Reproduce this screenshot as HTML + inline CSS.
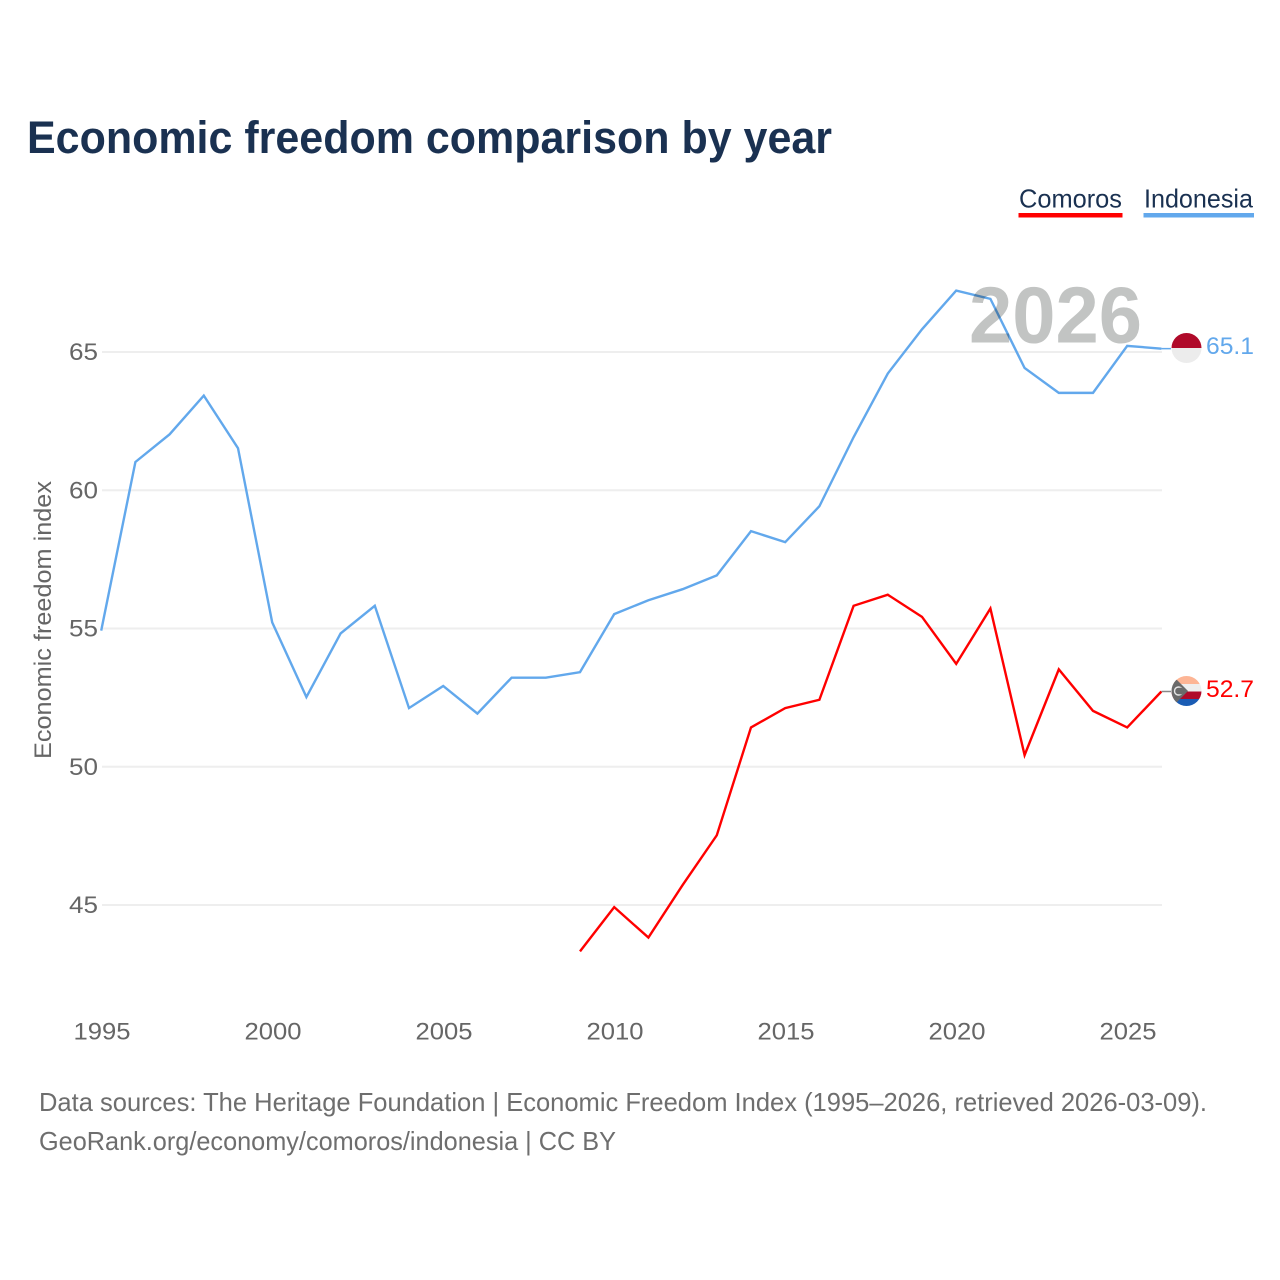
<!DOCTYPE html>
<html lang="en">
<head>
<meta charset="utf-8">
<title>Economic freedom comparison by year</title>
<style>
html,body{margin:0;padding:0;background:#fff;width:1280px;height:1280px;overflow:hidden}
svg{display:block}
text{font-family:"Liberation Sans",sans-serif}
</style>
</head>
<body>
<svg id="chart" xmlns="http://www.w3.org/2000/svg" width="1280" height="1280" viewBox="0 0 1280 1280">
  <rect x="0" y="0" width="1280" height="1280" fill="#ffffff"/>
  <text x="27" y="153" font-size="45" font-weight="700" fill="#1a3151" textLength="805" lengthAdjust="spacingAndGlyphs">Economic freedom comparison by year</text>

  <g>
    <g>
      <text x="1019" y="207.5" font-size="26" fill="#1a3151" textLength="103" lengthAdjust="spacingAndGlyphs">Comoros</text>
      <rect x="1018.5" y="213" width="104" height="4.5" fill="#ff0000"/>
    </g>
    <g>
      <text x="1144" y="207.5" font-size="26" fill="#1a3151" textLength="109" lengthAdjust="spacingAndGlyphs">Indonesia</text>
      <rect x="1143.5" y="213" width="110.5" height="4.5" fill="#62a8ec"/>
    </g>
  </g>

  <text transform="translate(51,759) rotate(-90)" x="0" y="0" font-size="24" fill="#666666" textLength="278" lengthAdjust="spacingAndGlyphs">Economic freedom index</text>

  <g id="grid"></g>
  <g id="yticks"></g>
  <g id="xticks"></g>
  <g id="series"></g>

  <text x="969" y="342.5" font-size="80" font-weight="700" fill="#c2c4c3" style="mix-blend-mode:multiply" textLength="173" lengthAdjust="spacingAndGlyphs">2026</text>

  <defs>
    <clipPath id="flag-id-clip"><circle cx="1186.5" cy="348" r="15"/></clipPath>
    <clipPath id="flag-km-clip"><circle cx="1186.5" cy="691" r="15"/></clipPath>
  </defs>

  <g clip-path="url(#flag-id-clip)">
    <rect x="1171" y="333" width="31" height="15" fill="#b00a2a"/>
    <rect x="1171" y="348" width="31" height="15" fill="#ececec"/>
  </g>
  <g clip-path="url(#flag-km-clip)">
    <rect x="1171" y="676" width="31" height="8" fill="#fdb595"/>
    <rect x="1171" y="684" width="31" height="7.5" fill="#eeeeee"/>
    <rect x="1171" y="691.5" width="31" height="7.5" fill="#b00a2a"/>
    <rect x="1171" y="699" width="31" height="8" fill="#1a5cb4"/>
    <polygon points="1171,676 1173,676 1188,691 1173,706 1171,706" fill="#6a6a6a"/>
    <circle cx="1178.5" cy="691" r="4" fill="none" stroke="#e8e8e8" stroke-width="1.4"/>
    <circle cx="1180.5" cy="691" r="3.4" fill="#6a6a6a"/>
  </g>

  <text x="1206" y="354" font-size="24" fill="#62a8ec" textLength="48" lengthAdjust="spacingAndGlyphs">65.1</text>
  <text x="1206" y="697" font-size="24" fill="#ff0000" textLength="48" lengthAdjust="spacingAndGlyphs">52.7</text>

  <text x="39" y="1111" font-size="26" fill="#6e6e6e" textLength="1168" lengthAdjust="spacingAndGlyphs">Data sources: The Heritage Foundation | Economic Freedom Index (1995–2026, retrieved 2026-03-09).</text>
  <text x="39" y="1150" font-size="26" fill="#6e6e6e" textLength="577" lengthAdjust="spacingAndGlyphs">GeoRank.org/economy/comoros/indonesia | CC BY</text>
</svg>

<script>
const yearsIndonesia = [1995,1996,1997,1998,1999,2000,2001,2002,2003,2004,2005,2006,2007,2008,2009,2010,2011,2012,2013,2014,2015,2016,2017,2018,2019,2020,2021,2022,2023,2024,2025,2026];
const valuesIndonesia = [54.9,61.0,62.0,63.4,61.5,55.2,52.5,54.8,55.8,52.1,52.9,51.9,53.2,53.2,53.4,55.5,56.0,56.4,56.9,58.5,58.1,59.4,61.9,64.2,65.8,67.2,66.9,64.4,63.5,63.5,65.2,65.1];
const yearsComoros = [2009,2010,2011,2012,2013,2014,2015,2016,2017,2018,2019,2020,2021,2022,2023,2024,2025,2026];
const valuesComoros = [43.3,44.9,43.8,45.7,47.5,51.4,52.1,52.4,55.8,56.2,55.4,53.7,55.7,50.4,53.5,52.0,51.4,52.7];
const xTickLabels = [1995,2000,2005,2010,2015,2020,2025];
const yTickLabels = [45,50,55,60,65];

const SVG_NS = 'http://www.w3.org/2000/svg';
function xScale(year) { return 101.2 + (year - 1995) * 34.2; }
function yScale(value) { return 904.4 - (value - 45) * 27.65; }
function gridY(value) { return 905 - (value - 45) * 27.65; }

function make(tag, attrs, parent) {
  const el = document.createElementNS(SVG_NS, tag);
  for (const key in attrs) el.setAttribute(key, attrs[key]);
  parent.appendChild(el);
  return el;
}

const grid = document.getElementById('grid');
const yticks = document.getElementById('yticks');
const xticks = document.getElementById('xticks');
const series = document.getElementById('series');

yTickLabels.forEach(function (v) {
  const line = make('line', { x1: 102, x2: 1162, y1: gridY(v), y2: gridY(v), stroke: '#eeeeee', 'stroke-width': 2 }, grid);
  
  
  const label = make('text', { x: 98, y: gridY(v) + 8, 'font-size': 24, fill: '#666666', 'text-anchor': 'end', textLength: 29, lengthAdjust: 'spacingAndGlyphs' }, yticks);
  label.textContent = v;
  
  
});

xTickLabels.forEach(function (y) {
  const label = make('text', { x: xScale(y) + 0.8, y: 1039.5, 'font-size': 24, fill: '#666666', 'text-anchor': 'middle', textLength: 57, lengthAdjust: 'spacingAndGlyphs' }, xticks);
  label.textContent = y;
  
  
});

function pathFor(years, values) {
  return years.map(function (y, i) {
    return (i ? 'L' : 'M') + xScale(y).toFixed(2) + ' ' + yScale(values[i]).toFixed(2);
  }).join(' ');
}

const lineIndonesia = make('path', { d: pathFor(yearsIndonesia, valuesIndonesia), fill: 'none', stroke: '#62a8ec', 'stroke-width': 2.4, 'stroke-linejoin': 'miter' }, series);



const lineComoros = make('path', { d: pathFor(yearsComoros, valuesComoros), fill: 'none', stroke: '#ff0000', 'stroke-width': 2.4, 'stroke-linejoin': 'miter' }, series);



const lastI = valuesIndonesia.length - 1;
const connectorIndonesia = make('line', { x1: xScale(2026), x2: 1171, y1: yScale(valuesIndonesia[lastI]), y2: yScale(valuesIndonesia[lastI]), stroke: '#62a8ec', 'stroke-width': 1.5 }, series);



const lastC = valuesComoros.length - 1;
const connectorComoros = make('line', { x1: xScale(2026), x2: 1171, y1: yScale(valuesComoros[lastC]), y2: yScale(valuesComoros[lastC]), stroke: '#888888', 'stroke-width': 1.5 }, series);


</script>
</body>
</html>
